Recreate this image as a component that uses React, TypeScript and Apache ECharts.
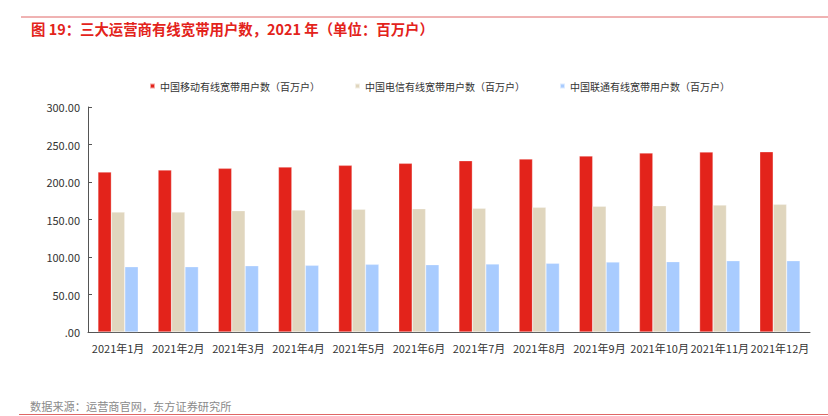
import React, { useEffect, useRef } from "react";
import * as echarts from "echarts";

const categories = ["2021年1月", "2021年2月", "2021年3月", "2021年4月", "2021年5月", "2021年6月", "2021年7月", "2021年8月", "2021年9月", "2021年10月", "2021年11月", "2021年12月"];
const seriesNames = ["中国移动有线宽带用户数（百万户）", "中国电信有线宽带用户数（百万户）", "中国联通有线宽带用户数（百万户）"];
const mobile = [213.3, 216.0, 218.2, 220.0, 222.2, 224.9, 228.4, 230.7, 234.7, 238.7, 240.0, 240.3];
const telecom = [160.0, 160.0, 161.8, 162.7, 163.6, 164.4, 164.9, 166.2, 167.6, 168.4, 169.3, 170.2];
const unicom = [87.1, 87.1, 88.4, 88.9, 90.2, 89.8, 90.7, 91.6, 93.3, 93.8, 95.1, 95.1];
const colors = ["#E3231B", "#E0D6BE", "#A9CCFF"];
const title = "图 19：三大运营商有线宽带用户数，2021 年（单位：百万户）";
const source = "数据来源：运营商官网，东方证券研究所";

const FONT = "'Noto Sans CJK SC', 'Noto Sans', sans-serif";

export default function App() {
  const ref = useRef<HTMLDivElement>(null);
  useEffect(() => {
    if (!ref.current) return;
    const chart = echarts.init(ref.current, undefined, { renderer: "svg" });
    const data = [mobile, telecom, unicom];
    chart.setOption({
      animation: false,
      backgroundColor: "#fff",
      textStyle: { fontFamily: FONT },
      graphic: [
        { type: "line", shape: { x1: 21, y1: 17, x2: 828, y2: 17 }, style: { stroke: "#E06666", lineWidth: 1 } },
        { type: "text", x: 31, y: 28, style: { text: title, fill: "#E3231B", font: `bold 14.4px ${FONT}`, verticalAlign: "middle" } },
        { type: "text", x: 30, y: 406, style: { text: source, fill: "#8a8a8a", font: `11.2px ${FONT}`, verticalAlign: "middle" } },
        { type: "line", shape: { x1: 19, y1: 414.5, x2: 828, y2: 414.5 }, style: { stroke: "#E06666", lineWidth: 1 } },
      ],
      legend: {
        top: 76,
        left: 144,
        itemWidth: 5,
        itemHeight: 5,
        itemGap: 34,
        icon: "rect",
        textStyle: { fontSize: 10, color: "#333", fontFamily: FONT },
        data: seriesNames,
      },
      grid: { left: 88, right: 18, top: 107, bottom: 84 },
      xAxis: {
        type: "category",
        data: categories,
        axisLine: { lineStyle: { color: "#555" } },
        axisTick: { inside: true, length: 4, lineStyle: { color: "#555" } },
        axisLabel: { color: "#333", fontSize: 11, margin: 10, interval: 0, fontFamily: FONT },
      },
      yAxis: {
        type: "value",
        min: 0,
        max: 300,
        interval: 50,
        splitLine: { show: false },
        axisLine: { show: true, lineStyle: { color: "#555" } },
        axisTick: { show: true, inside: true, length: 4, lineStyle: { color: "#555" } },
        axisLabel: {
          color: "#333",
          fontSize: 11,
          margin: 8,
          fontFamily: FONT,
          formatter: (v: number) => (v === 0 ? ".00" : v.toFixed(2)),
        },
      },
      series: seriesNames.map((name, i) => ({
        name,
        type: "bar",
        data: data[i],
        barGap: "0%",
        barCategoryGap: "33%",
        itemStyle: { color: colors[i], borderColor: "rgba(255,255,255,0.6)", borderWidth: 0.5 },
      })),
    });
    return () => chart.dispose();
  }, []);
  return <div ref={ref} style={{ width: 828, height: 416, position: "absolute", left: 0, top: 0 }} />;
}
